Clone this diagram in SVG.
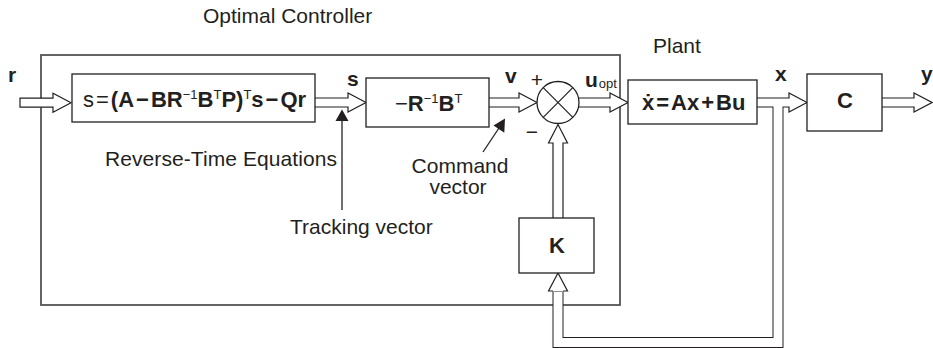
<svg xmlns="http://www.w3.org/2000/svg" width="933" height="348" viewBox="0 0 933 348">
<style>
text{font-family:"Liberation Sans",Arial,Helvetica,sans-serif;fill:#231f20}
.lbl{font-size:21px}
.b{font-weight:bold;font-size:21px}
.eq{font-weight:bold;font-size:22px}
.sup{font-size:13px;font-weight:normal}
.n{font-weight:normal}
.box{fill:#fff;stroke:#231f20;stroke-width:1.3}
.harrow{fill:#fff;stroke:#231f20;stroke-width:1.2;stroke-linejoin:miter}
.ptr{stroke:#231f20;stroke-width:1.3;fill:none}
.ptrhead{fill:#231f20;stroke:none}
</style>
<rect width="933" height="348" fill="#fff"/>
<g id="controller-frame">
<rect x="41" y="55" width="579" height="250" fill="none" stroke="#555" stroke-width="1.8"/>
<text class="lbl" x="203" y="23">Optimal Controller</text>
</g>
<g id="labels">
<text class="lbl" x="653" y="53">Plant</text>
<text class="lbl" x="105" y="166" textLength="232">Reverse-Time Equations</text>
<text class="lbl" x="290" y="234">Tracking vector</text>
<text class="lbl" x="460" y="173" text-anchor="middle">Command</text>
<text class="lbl" x="458" y="194" text-anchor="middle">vector</text>
<text class="b" x="8" y="82">r</text>
<text class="b" x="347" y="86">s</text>
<text class="b" x="505" y="83">v</text>
<text class="b" x="585" y="87">u<tspan class="sup" font-size="14px" dx="1" dy="1">opt</tspan></text>
<text class="b" x="775" y="81">x</text>
<text class="b" x="921" y="81">y</text>
<text class="lbl" x="537" y="87" text-anchor="middle">+</text>
<text class="lbl" x="532" y="139" text-anchor="middle">−</text>
</g>
<g id="connectors">
<path class="harrow" d="M20,98.2 H53 V93.2 L71,102.7 L53,112.2 V107.2 H20 Z"/>
<path class="harrow" d="M315,98 H348 V93 L366,102.5 L348,112 V107 H315"/>
<path class="harrow" d="M489,98 H519 V93 L537,102.5 L519,112 V107 H489"/>
<path class="harrow" d="M579,98 H610 V93 L628,102.5 L610,112 V107 H579"/>
<path class="harrow" d="M757,98 H789 V93 L807,102.5 L789,112 V107 H757"/>
<path class="harrow" d="M882,98 H914 V93 L932,102.5 L914,112 V107 H882"/>
<path d="M778,107 V342.5 H558 V291.5" fill="none" stroke="#231f20" stroke-width="11" stroke-linejoin="miter"/>
<path d="M778,102 V342.5 H558 V292" fill="none" stroke="#fff" stroke-width="9" stroke-linejoin="miter"/>
<path class="harrow" d="M553,291 H548.5 L558,273 L567.5,291 H563"/>
<path class="harrow" d="M553,218 V143 H548.5 L558,124.5 L567.5,143 H563 V218"/>
<line class="ptr" x1="342" y1="210" x2="342" y2="118"/>
<path class="ptrhead" d="M342,109.5 L348.5,121 L335.5,121 Z"/>
<line class="ptr" x1="483" y1="152" x2="499" y2="128"/>
<path class="ptrhead" d="M505,118.5 L504.3,132.8 L493.5,125.6 Z"/>
</g>
<g id="reverse-time">
<rect class="box" x="72" y="74" width="243" height="48"/>
<text class="eq" x="83" y="107"><tspan class="n">s</tspan><tspan class="n" dx="2">=</tspan><tspan dx="2">(A</tspan><tspan dx="2">−</tspan><tspan dx="2">BR</tspan><tspan class="sup" dy="-8">−1</tspan><tspan dy="8">B</tspan><tspan class="sup" dy="-8">T</tspan><tspan dy="8">P)</tspan><tspan class="sup" dy="-8">T</tspan><tspan dy="8">s</tspan><tspan dx="2">−</tspan><tspan dx="2">Qr</tspan></text>
</g>
<g id="gain">
<rect class="box" x="366" y="78" width="123" height="49"/>
<text class="eq" x="395" y="111"><tspan class="n">−</tspan>R<tspan class="sup" dy="-8">−1</tspan><tspan dy="8">B</tspan><tspan class="sup" dy="-8">T</tspan></text>
</g>
<g id="summer">
<circle cx="558" cy="102.5" r="21" fill="#fff" stroke="#231f20" stroke-width="1.3"/>
<path d="M543.2,87.7 L572.8,117.3 M572.8,87.7 L543.2,117.3" stroke="#231f20" stroke-width="1.2"/>
</g>
<g id="plant">
<rect class="box" x="628" y="80" width="129" height="44"/>
<text class="eq" x="642" y="110">ẋ<tspan dx="2">=</tspan><tspan dx="2">Ax</tspan><tspan dx="2">+</tspan><tspan dx="2">Bu</tspan></text>
</g>
<g id="output-matrix">
<rect class="box" x="807" y="74" width="75" height="57"/>
<text class="eq" x="845" y="108" text-anchor="middle">C</text>
</g>
<g id="feedback-gain">
<rect class="box" x="519" y="218" width="75" height="55"/>
<text class="eq" x="557" y="253" text-anchor="middle">K</text>
</g>
</svg>
